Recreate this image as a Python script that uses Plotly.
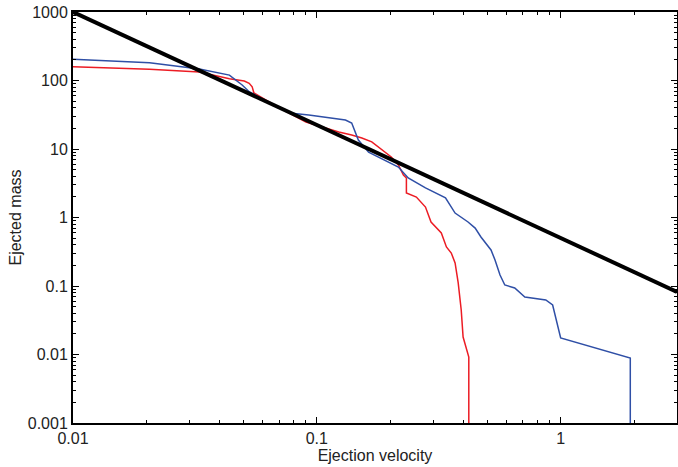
import plotly.graph_objects as go
import math

# Red series (ejection velocity, ejected mass)
red_v = [0.01, 0.0206, 0.033, 0.0438, 0.0504, 0.0528, 0.0543, 0.0552, 0.0668, 0.0845,
         0.0902, 0.099, 0.1088, 0.123, 0.139, 0.153, 0.168, 0.179, 0.191, 0.202,
         0.216, 0.2265, 0.233, 0.233, 0.256, 0.279, 0.294, 0.324, 0.340, 0.356,
         0.369, 0.380, 0.391, 0.398, 0.42, 0.42]
red_m = [159, 146, 133, 106, 98, 91, 81, 65.7, 43.9, 28.4,
         24.8, 22.4, 20.3, 17.7, 16.0, 14.5, 12.7, 10.7, 9.0, 7.64,
         5.84, 4.17, 3.77, 2.28, 1.99, 1.42, 0.86, 0.594, 0.371, 0.303,
         0.217, 0.111, 0.0447, 0.018, 0.0092, 0.001]

# Blue series
blue_v = [0.01, 0.0206, 0.033, 0.0438, 0.0494, 0.0528, 0.070, 0.079, 0.0927, 0.115,
          0.131, 0.139, 0.144, 0.148, 0.163, 0.191, 0.216, 0.237, 0.279, 0.337,
          0.369, 0.417, 0.446, 0.471, 0.518, 0.538, 0.564, 0.590, 0.648, 0.713,
          0.869, 0.927, 0.946, 0.975, 1.0, 1.93, 1.93]
blue_m = [204, 182, 147, 120, 86, 68.6, 39.7, 33.2, 31.4, 28.4,
          26.5, 24, 17.1, 13.5, 9.0, 6.9, 5.46, 3.77, 2.70, 1.93,
          1.16, 0.86, 0.70, 0.52, 0.336, 0.24, 0.145, 0.1035, 0.0935, 0.069,
          0.0625, 0.0528, 0.040, 0.0252, 0.0174, 0.0089, 0.001]

# Power-law reference line
line_v = [0.01, 3]
line_m = [1000, 0.082]

y_tickvals = [0.001, 0.01, 0.1, 1, 10, 100, 1000]
y_ticktext = ["0.001", "0.01", "0.1", "1", "10", "100", "1000"]
x_tickvals = [0.01, 0.1, 1]
x_ticktext = ["0.01", "0.1", "1"]

x_minor = [m * d for d in (0.01, 0.1, 1) for m in range(2, 10) if m * d <= 3]
y_minor = [m * d for d in (0.001, 0.01, 0.1, 1, 10, 100) for m in range(2, 10)]

x_range = [-2, math.log10(3)]
y_range = [-3, 3]

fig = go.Figure()
fig.add_trace(go.Scatter(x=red_v, y=red_m, mode="lines",
                         line=dict(color="#ec1c24", width=1.5), showlegend=False))
fig.add_trace(go.Scatter(x=blue_v, y=blue_m, mode="lines",
                         line=dict(color="#2f4fa6", width=1.5), showlegend=False))
fig.add_trace(go.Scatter(x=line_v, y=line_m, mode="lines",
                         line=dict(color="black", width=4), showlegend=False))
# invisible trace to carry the mirrored (top/right) axes
fig.add_trace(go.Scatter(x=line_v, y=line_m, mode="lines", xaxis="x2", yaxis="y2",
                         line=dict(color="rgba(0,0,0,0)", width=0), showlegend=False,
                         hoverinfo="skip"))

font = dict(family="Liberation Sans, Arial, sans-serif", size=16, color="#222")

common = dict(
    type="log", ticks="inside", ticklen=6, tickwidth=1, tickcolor="black",
    showline=True, linecolor="black", linewidth=2,
    showgrid=False, zeroline=False,
)

fig.update_layout(
    width=678, height=467,
    margin=dict(l=73, r=1, t=12, b=44),
    paper_bgcolor="white", plot_bgcolor="white",
    font=font,
    showlegend=False,
    xaxis=dict(**common, range=x_range, tickvals=x_tickvals, ticktext=x_ticktext,
               minor=dict(tickvals=x_minor, ticks="inside", ticklen=3, tickwidth=1,
                          tickcolor="black", showgrid=False),
               title=dict(text="Ejection velocity", standoff=2, font=font)),
    yaxis=dict(**common, range=y_range, tickvals=y_tickvals, ticktext=y_ticktext,
               minor=dict(tickvals=y_minor, ticks="inside", ticklen=3, tickwidth=1,
                          tickcolor="black", showgrid=False),
               title=dict(text="Ejected mass", standoff=2, font=font)),
    xaxis2=dict(**common, range=x_range, tickvals=x_tickvals, showticklabels=False,
                overlaying="x", side="top", anchor="y2",
                minor=dict(tickvals=x_minor, ticks="inside", ticklen=3, tickwidth=1,
                           tickcolor="black", showgrid=False)),
    yaxis2=dict(**common, range=y_range, tickvals=y_tickvals, showticklabels=False,
                overlaying="y", side="right", anchor="x2",
                minor=dict(tickvals=y_minor, ticks="inside", ticklen=3, tickwidth=1,
                           tickcolor="black", showgrid=False)),
)

fig.write_html("out.html")
